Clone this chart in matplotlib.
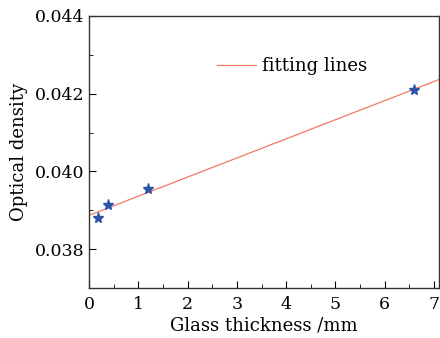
import numpy as np
import matplotlib.pyplot as plt
from matplotlib.ticker import MultipleLocator

thickness = [0.18, 0.39, 1.2, 6.6]
density = [0.03881, 0.03913, 0.03956, 0.04210]

plt.rcParams['font.family'] = ['DejaVu Serif']
plt.rcParams['font.size'] = 12

fig = plt.figure(figsize=(4.4, 3.38), dpi=100)
ax = fig.add_axes([0.2023, 0.1479, 0.7954, 0.8048])

k, b = np.polyfit(thickness, density, 1)
xs = np.array([0, 7.1])
ax.plot(xs, k * xs + b, color='#f07a66', lw=0.9, label='fitting lines')
ax.plot(thickness, density, linestyle='none', marker='*', color='#2e55a5',
        markersize=8)

ax.set_xlim(0, 7.1)
ax.set_ylim(0.037, 0.044)
ax.xaxis.set_major_locator(MultipleLocator(1))
ax.xaxis.set_minor_locator(MultipleLocator(0.5))
ax.yaxis.set_major_locator(MultipleLocator(0.002))
ax.yaxis.set_minor_locator(MultipleLocator(0.001))
ax.yaxis.set_major_formatter(plt.FuncFormatter(lambda v, p: '%.3f' % v))
ax.tick_params(which='both', direction='in', top=False, right=False, labelsize=12.5)
ax.tick_params(axis='x', which='major', pad=6)
ax.tick_params(which='major', length=5)
ax.tick_params(which='minor', length=3)
for s in ax.spines.values():
    s.set_linewidth(1.0)
    s.set_color('#333333')

ax.set_xlabel('Glass thickness /mm', fontsize=13, labelpad=2)
ax.set_ylabel('Optical density', fontsize=13, labelpad=5)

ax.legend(loc='center left', bbox_to_anchor=(0.318, 0.816), frameon=False,
          handlelength=2.2, handletextpad=0.3, fontsize=13)

fig.savefig('out.png', dpi=100)
